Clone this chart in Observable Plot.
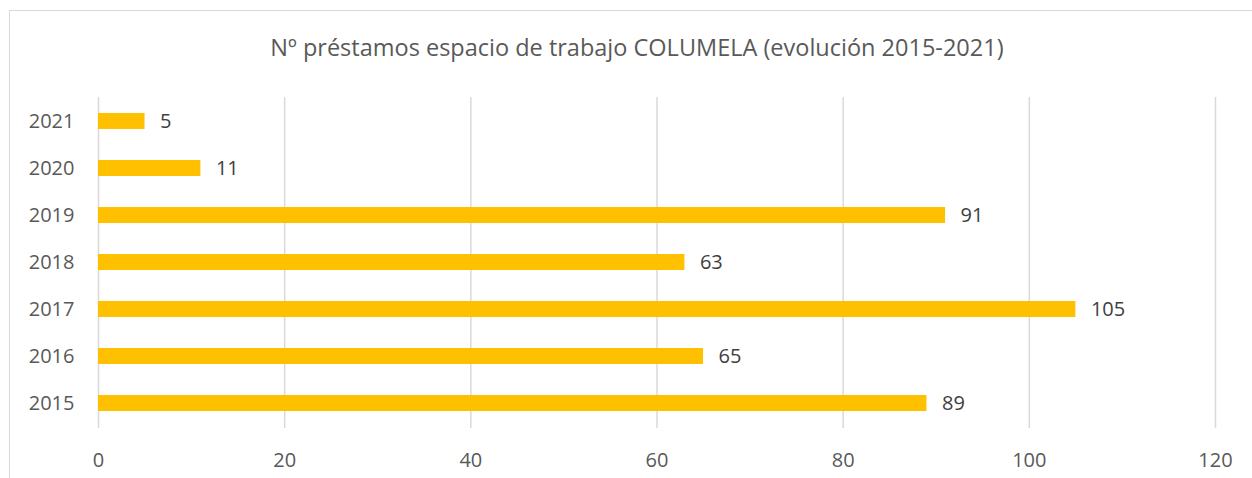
<!DOCTYPE html>
<html><head><meta charset="utf-8">
<script src="https://cdn.jsdelivr.net/npm/d3@7"></script>
<script src="https://cdn.jsdelivr.net/npm/@observablehq/plot@0.6"></script>
<style>
body{margin:0;background:#fff;font-family:"Open Sans",sans-serif;}
#wrap{position:relative;width:1252px;height:478px;overflow:hidden;}
#frame{position:absolute;left:9px;top:10px;width:1400px;height:600px;border:1.5px solid #d9d9d9;box-sizing:border-box;}
#title{position:absolute;left:0;width:1274px;top:31px;text-align:center;font-size:23.5px;line-height:32px;color:#595959;font-family:"Open Sans",sans-serif;}
#chart{position:absolute;left:0;top:0;}
</style></head>
<body><div id="wrap"><div id="frame"></div><div id="title">Nº préstamos espacio de trabajo COLUMELA (evolución 2015-2021)</div><div id="chart"></div></div>
<script>
const years = ["2015","2016","2017","2018","2019","2020","2021"];
const prestamos = [89, 65, 105, 63, 91, 11, 5];
const xTicks = [0,20,40,60,80,100,120];
const data = years.map((y,i)=>({year:y, value:prestamos[i]}));
const chart = Plot.plot({
  width:1252, height:478,
  marginTop:97, marginBottom:50, marginLeft:98, marginRight:37,
  style:{fontFamily:"Open Sans, sans-serif", fontSize:"20px", color:"#595959", background:"transparent"},
  x:{domain:[0,120], ticks:xTicks, tickSize:0, tickPadding:24, label:null},
  y:{domain:[...years].reverse(), paddingInner:0.65, paddingOuter:0.325, tickSize:0, tickPadding:24, label:null},
  marks:[
    Plot.ruleX(xTicks,{stroke:"#d9d9d9", strokeWidth:1.5}),
    Plot.barX(data,{y:"year", x:"value", fill:"#ffc000"}),
    Plot.text(data,{y:"year", x:"value", text:d=>String(d.value), textAnchor:"start", dx:15, fill:"#404040", fontSize:20})
  ]
});
document.getElementById("chart").appendChild(chart);
</script></body></html>
